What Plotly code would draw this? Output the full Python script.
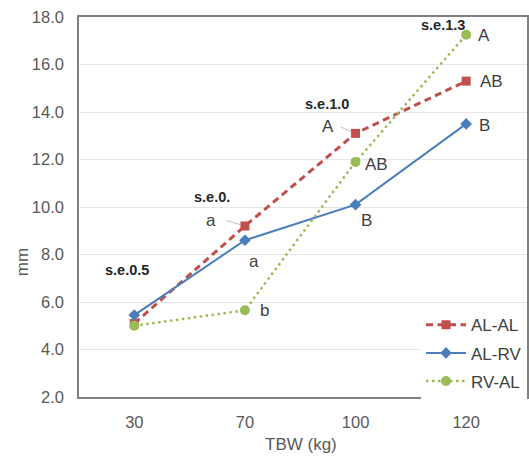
import plotly.graph_objects as go

categories = ["30", "70", "100", "120"]
al_al = [5.1, 9.2, 13.1, 15.3]
al_rv = [5.45, 8.6, 10.1, 13.5]
rv_al = [5.0, 5.65, 11.9, 17.25]

# significance letters per series (per category)
al_al_letters = ["", "a", "A", "AB"]
al_rv_letters = ["", "a", "B", "B"]
rv_al_letters = ["", "b", "AB", "A"]
se_labels = ["s.e.0.5", "s.e.0.", "s.e.1.0", "s.e.1.3"]

FONT = "Liberation Sans, Arial, sans-serif"
xs = list(range(len(categories)))

fig = go.Figure()
fig.add_trace(go.Scatter(x=xs, y=al_al, name="AL-AL", mode="lines+markers",
                         line=dict(color="#C0504D", width=3, dash="7px,4.5px"),
                         marker=dict(symbol="square", size=9, color="#C0504D"),
                         legendgroup="a"))
fig.add_trace(go.Scatter(x=xs, y=al_rv, name="AL-RV", mode="lines+markers",
                         line=dict(color="#4A7EBB", width=2),
                         marker=dict(symbol="diamond", size=9, color="#4A7EBB"),
                         legendgroup="b"))
fig.add_trace(go.Scatter(x=xs, y=rv_al, name="RV-AL", mode="lines+markers",
                         line=dict(color="#9BBB59", width=2.5, dash="2.5px,3.5px"),
                         marker=dict(symbol="circle", size=10, color="#9BBB59"),
                         legendgroup="c"))

ann = []
LF = dict(family=FONT, size=17, color="#404040")
# letter offsets (pixels) per series/category
red_off = [None, (-34, 6), (-28, 7), (25, 0)]
blue_off = [None, (9, -21), (11, -16), (18, -2)]
green_off = [None, (20, 0), (21, -3), (18, -1)]
for vals, letters, offs in [(al_al, al_al_letters, red_off),
                            (al_rv, al_rv_letters, blue_off),
                            (rv_al, rv_al_letters, green_off)]:
    for i, (v, t) in enumerate(zip(vals, letters)):
        if not t:
            continue
        dx, dy = offs[i]
        ann.append(dict(x=xs[i], y=v, xref="x", yref="y", text=t, showarrow=False,
                        xshift=dx, yshift=dy, font=LF))
# leader lines for red "a" and "A"
for i in [1, 2]:
    ann.append(dict(x=xs[i], y=al_al[i], xref="x", yref="y", text="", showarrow=True,
                    arrowhead=0, arrowwidth=1, arrowcolor="#BFBFBF",
                    ax=-20 if i == 1 else -16, ay=-6 if i == 1 else -7, standoff=5))

se_x = [-0.066, 0.70, 1.74, 2.79]
se_y = [7.35, 10.42, 14.34, 17.66]
for t, x, y in zip(se_labels, se_x, se_y):
    ann.append(dict(x=x, y=y, xref="x", yref="y", text="<b>" + t + "</b>", showarrow=False,
                    font=dict(family=FONT, size=14.5, color="#262626")))

# axis titles
TF = dict(family=FONT, size=17, color="#595959")
ann.append(dict(x=-0.127, y=0.355, xref="paper", yref="paper", text="mm", textangle=-90,
                xanchor="center", yanchor="middle", showarrow=False, font=TF))
ann.append(dict(x=0.495, y=-0.126, xref="paper", yref="paper", text="TBW (kg)",
                xanchor="center", yanchor="middle", showarrow=False, font=TF))

fig.update_layout(
    width=529, height=468,
    margin=dict(l=79, r=2, t=17, b=71),
    paper_bgcolor="white", plot_bgcolor="white",
    font=dict(family=FONT, color="#595959"),
    annotations=ann,
    showlegend=True,
    legend=dict(x=1.0, xanchor="right", y=-0.006, yanchor="bottom",
                bgcolor="white", font=dict(family=FONT, size=17, color="#404040"),
                traceorder="grouped", tracegroupgap=3, itemwidth=40,
                borderwidth=0),
    xaxis=dict(range=[-0.5, 3.55], tickvals=xs, ticktext=categories, automargin=False,
               showgrid=False, zeroline=False, showline=True, mirror=True,
               linecolor="#7F7F7F", linewidth=1.5, ticks="", ticklen=0,
               ticklabelstandoff=9,
               tickfont=dict(family=FONT, size=16.5, color="#595959")),
    yaxis=dict(range=[2, 18], dtick=2, tickformat=".1f", automargin=False,
               showgrid=True, gridcolor="#E6E6E6", gridwidth=1, zeroline=False,
               showline=True, mirror=True, linecolor="#7F7F7F", linewidth=1.5,
               ticklabelstandoff=10,
               tickfont=dict(family=FONT, size=16.5, color="#595959")),
)

fig.write_html("out.html", config={"displayModeBar": False},
               post_script="document.body.style.margin='0';document.body.style.padding='0';")
